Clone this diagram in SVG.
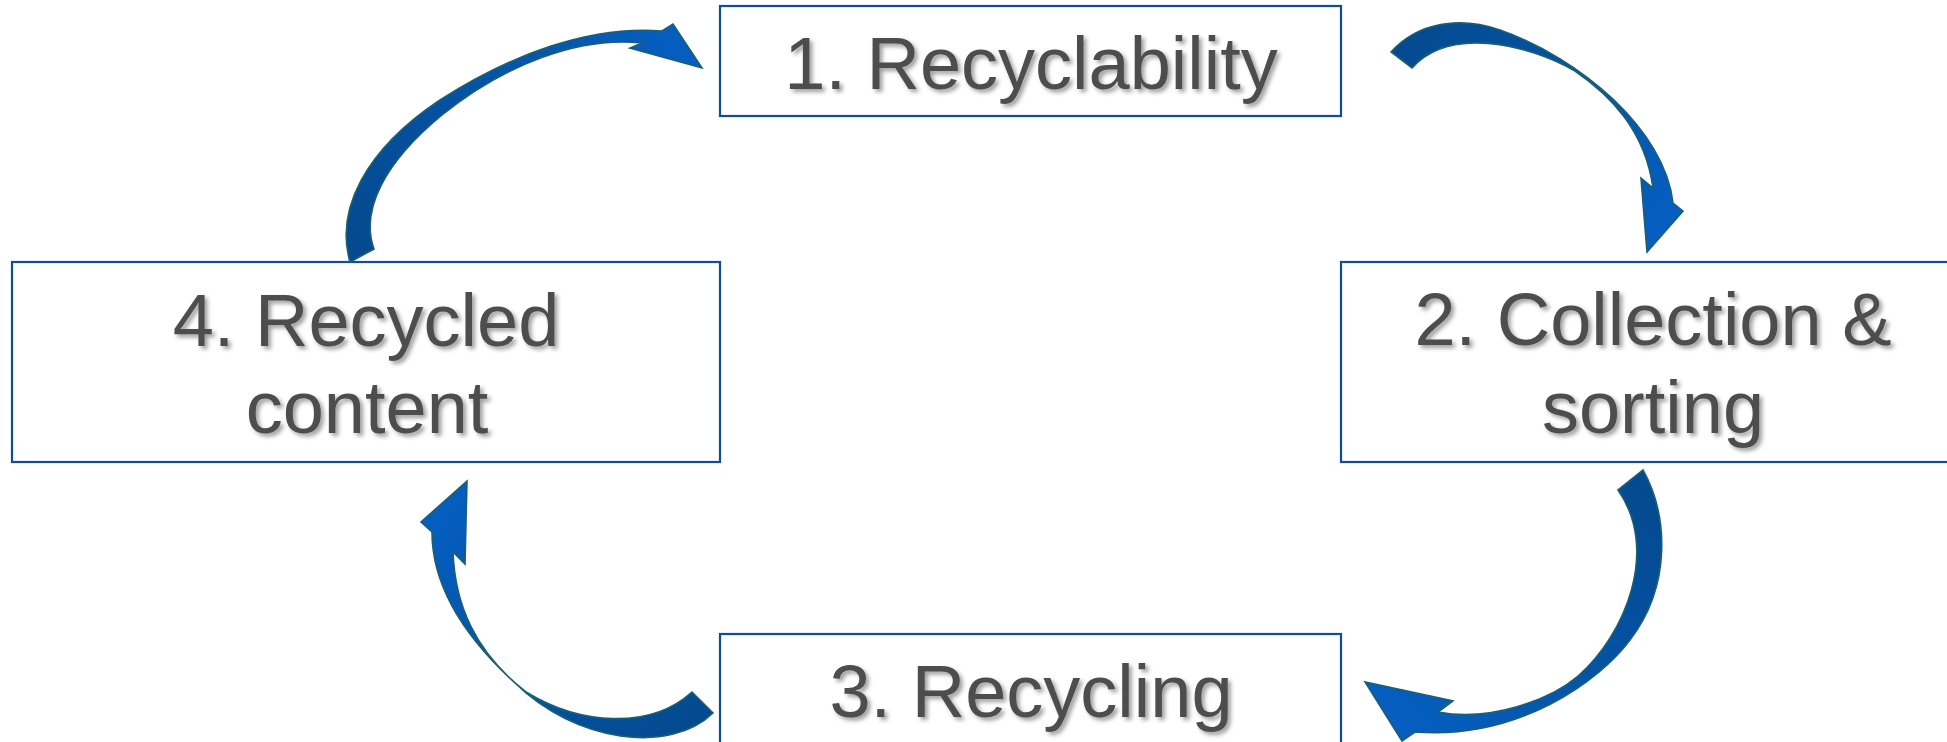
<svg xmlns="http://www.w3.org/2000/svg" width="1947" height="742" viewBox="0 0 1947 742">
<defs>
<style>
.box{fill:#ffffff;stroke:#0F4C9C;stroke-width:2.2}
.lbl{font-family:"Liberation Sans",Arial,sans-serif;font-size:74px;fill:#4D4D4D;text-anchor:middle;filter:url(#sh)}
.arr{stroke:#1B6070;stroke-width:1.6;stroke-linejoin:miter}
</style>
<filter id="sh" x="-10%" y="-20%" width="130%" height="150%">
<feDropShadow dx="3" dy="3" stdDeviation="2" flood-color="#000000" flood-opacity="0.38"/>
</filter>
<linearGradient id="gA" gradientUnits="userSpaceOnUse" x1="1400" y1="40" x2="1660" y2="230">
<stop offset="0" stop-color="#044A90"/><stop offset="0.55" stop-color="#0454A8"/><stop offset="1" stop-color="#055EC0"/>
</linearGradient>
<linearGradient id="gB" gradientUnits="userSpaceOnUse" x1="1640" y1="480" x2="1400" y2="720">
<stop offset="0" stop-color="#044A90"/><stop offset="0.55" stop-color="#0454A8"/><stop offset="1" stop-color="#055EC0"/>
</linearGradient>
<linearGradient id="gC" gradientUnits="userSpaceOnUse" x1="700" y1="710" x2="440" y2="500">
<stop offset="0" stop-color="#044A90"/><stop offset="0.55" stop-color="#0454A8"/><stop offset="1" stop-color="#055EC0"/>
</linearGradient>
<linearGradient id="gD" gradientUnits="userSpaceOnUse" x1="360" y1="255" x2="690" y2="45">
<stop offset="0" stop-color="#044A90"/><stop offset="0.55" stop-color="#0454A8"/><stop offset="1" stop-color="#055EC0"/>
</linearGradient>
</defs>
<rect width="1947" height="742" fill="#ffffff"/>
<g id="node1">
<rect class="box" x="720" y="6" width="621" height="110"/>
<text class="lbl" x="1031" y="89">1. Recyclability</text>
</g>
<g id="node2">
<rect class="box" x="1341" y="262" width="640" height="200"/>
<text class="lbl" x="1653" y="345">2. Collection &amp;</text>
<text class="lbl" x="1653" y="433">sorting</text>
</g>
<g id="node3">
<rect class="box" x="720" y="634" width="621" height="140"/>
<text class="lbl" x="1031" y="717">3. Recycling</text>
</g>
<g id="node4">
<rect class="box" x="12" y="262" width="708" height="200"/>
<text class="lbl" x="366" y="346">4. Recycled</text>
<text class="lbl" x="367" y="433">content</text>
</g>
<g id="connectors">
<path class="arr" fill="url(#gA)" d="M1391,52 C1418,22 1460,16 1500,30 C1580,58 1665,130 1673,203 L1683,211 L1647,252 L1641,178 L1653,188 C1645,130 1610,95 1575,71 C1530,45 1450,25 1412,68 Z"/>
<path class="arr" fill="url(#gB)" d="M1643,470 C1668,515 1672,585 1630,640 C1600,680 1520,740 1415,732 L1402,741 L1365,682 L1453,701 L1438,712 C1490,722 1550,700 1578,676 C1625,635 1660,550 1618,490 Z"/>
<path class="arr" fill="url(#gC)" d="M713,713 C670,755 575,742 515,683 C468,640 432,590 432,532 L421,522 L467,481 L465,564 L453,552 C455,605 475,652 526,692 C580,725 650,730 692,692 Z"/>
<path class="arr" fill="url(#gD)" d="M350,262 C335,210 365,150 440,100 C510,55 590,25 662,31 L673,24 L702,68 L630,48 L642,43 C580,36 505,64 442,115 C385,162 360,210 374,249 Z"/>
</g>
</svg>
